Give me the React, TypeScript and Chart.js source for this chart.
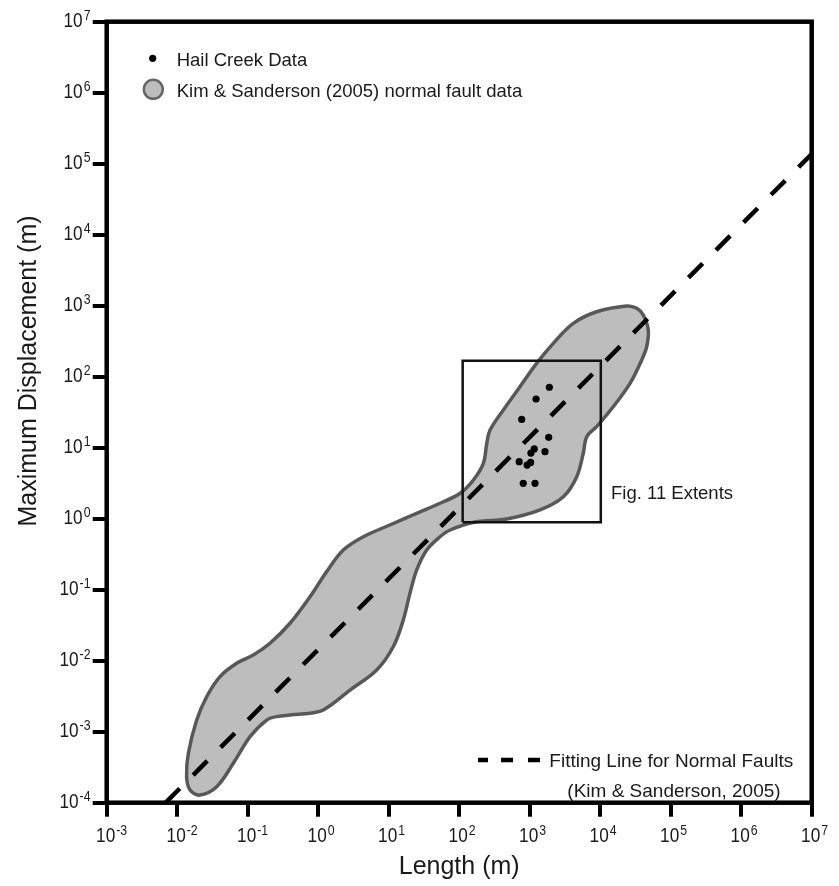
import React, { useEffect, useRef } from 'react';
import { Chart, registerables } from 'chart.js';

Chart.register(...registerables);

// ---- data ----
const xTickExponents = [-3, -2, -1, 0, 1, 2, 3, 4, 5, 6, 7];
const yTickExponents = [-4, -3, -2, -1, 0, 1, 2, 3, 4, 5, 6, 7];

// Kim & Sanderson (2005) normal fault data envelope (closed outline)
const envelopeLength = [0.766, 1.18, 2.83, 6.76, 11.6, 16.1, 20.0, 24.9, 34.6, 53.5, 74.1, 168, 472, 1400, 3000, 4650, 5750, 6440, 8910, 15300, 26500, 38800, 45700, 48100, 40800, 33000, 23800, 8910, 4150, 2160, 1260, 728, 423, 274, 246, 220, 159, 103, 53.5, 24.9, 10.4, 4.37, 2.27, 1.32, 0.766, 0.398, 0.207, 0.120, 0.0698, 0.0405, 0.0262, 0.0189, 0.0144, 0.0136, 0.0152, 0.0210, 0.0363, 0.0625, 0.108, 0.186, 0.258, 0.766];
const envelopeDisp = [0.00182, 0.00202, 0.00386, 0.0074, 0.0157, 0.0374, 0.0889, 0.189, 0.362, 0.557, 0.693, 0.899, 0.991, 1.33, 2.04, 3.91, 8.34, 14.3, 19.8, 37.8, 80.7, 172, 265, 455, 740, 918, 991, 822, 565, 295, 155, 72.3, 34.0, 17.7, 11.5, 6.03, 3.51, 2.28, 1.65, 1.19, 0.815, 0.557, 0.362, 0.180, 0.0796, 0.0337, 0.0176, 0.0120, 0.00918, 0.00596, 0.00311, 0.00146, 0.000497, 0.000232, 0.000151, 0.000128, 0.000168, 0.000359, 0.000851, 0.00146, 0.00163, 0.00182];

// Hail Creek data
const hailLength = [1900, 1230, 770, 1860, 1160, 1040, 1650, 710, 1030, 920, 810, 1190];
const hailDisp = [71, 48.5, 25, 14, 9.6, 8.4, 8.8, 6.35, 6.2, 5.7, 3.15, 3.15];

// Fitting line for normal faults
const fitLength = [0.00685, 1e7];
const fitDisp = [1e-4, 1.37e5];

// Fig. 11 extents box
const extentLength = [112, 10200];
const extentDisp = [0.89, 168];

const xTitle = 'Length (m)';
const yTitle = 'Maximum Displacement (m)';
const legendHail = 'Hail Creek Data';
const legendKim = 'Kim & Sanderson (2005) normal fault data';
const legendFit1 = 'Fitting Line for Normal Faults';
const legendFit2 = '(Kim & Sanderson, 2005)';
const extentLabel = 'Fig. 11 Extents';

const FONT = '"Liberation Sans", Arial, Helvetica, sans-serif';
const TEXT = '#1a1a1a';

function drawText(ctx: CanvasRenderingContext2D, s: string, x: number, y: number, size: number, sx = 1) {
  ctx.save();
  ctx.font = `${size}px ${FONT}`;
  ctx.textBaseline = 'alphabetic';
  ctx.textAlign = 'left';
  ctx.translate(x, y);
  ctx.scale(sx, 1);
  ctx.fillText(s, 0, 0);
  ctx.restore();
}
function textWidth(ctx: CanvasRenderingContext2D, s: string, size: number, sx = 1) {
  ctx.save();
  ctx.font = `${size}px ${FONT}`;
  const w = ctx.measureText(s).width * sx;
  ctx.restore();
  return w;
}

const BASE = 21, SUP = 15, SX = 0.82;

const overlayPlugin = {
  id: 'overlay',
  afterDraw(chart: any) {
    const ctx: CanvasRenderingContext2D = chart.ctx;
    const a = chart.chartArea;
    const xs = chart.scales.x, ys = chart.scales.y;
    ctx.save();
    // frame
    ctx.strokeStyle = '#000';
    ctx.lineWidth = 4.5;
    ctx.strokeRect(a.left, a.top, a.right - a.left, a.bottom - a.top);

    ctx.fillStyle = TEXT;
    // x tick labels
    xTickExponents.forEach((e) => {
      const px = xs.getPixelForValue(Math.pow(10, e));
      const wb = textWidth(ctx, '10', BASE, SX);
      const x0 = px - 1 - wb / 2;
      drawText(ctx, '10', x0, 842, BASE, SX);
      drawText(ctx, String(e), x0 + wb + 1, 835, SUP, SX);
    });
    // y tick labels
    yTickExponents.forEach((e) => {
      const py = ys.getPixelForValue(Math.pow(10, e));
      const ws = textWidth(ctx, String(e), SUP, SX);
      const wb = textWidth(ctx, '10', BASE, SX);
      const right = 90.5;
      drawText(ctx, String(e), right - ws, py - 2, SUP, SX);
      drawText(ctx, '10', right - ws - 1 - wb, py + 5, BASE, SX);
    });

    // axis titles
    ctx.save();
    ctx.font = `25px ${FONT}`;
    ctx.textAlign = 'center';
    ctx.textBaseline = 'alphabetic';
    ctx.fillText(xTitle, (a.left + a.right) / 2, 874);
    ctx.translate(36, 371);
    ctx.rotate(-Math.PI / 2);
    ctx.fillText(yTitle, 0, 0);
    ctx.restore();

    // legend top-left
    ctx.fillStyle = '#000';
    ctx.beginPath();
    ctx.arc(152.7, 58.3, 3.6, 0, Math.PI * 2);
    ctx.fill();
    ctx.fillStyle = TEXT;
    drawText(ctx, legendHail, 176.7, 66, 18.5);

    ctx.beginPath();
    ctx.arc(153.3, 89.3, 9.5, 0, Math.PI * 2);
    ctx.fillStyle = '#bdbdbd';
    ctx.fill();
    ctx.strokeStyle = '#666';
    ctx.lineWidth = 2.5;
    ctx.stroke();
    ctx.fillStyle = TEXT;
    drawText(ctx, legendKim, 176.7, 97, 18.5);

    // legend bottom-right
    ctx.strokeStyle = '#000';
    ctx.lineWidth = 4.5;
    ctx.lineCap = 'butt';
    [[478, 488], [501, 513], [528, 540]].forEach(([x1, x2]) => {
      ctx.beginPath();
      ctx.moveTo(x1, 760);
      ctx.lineTo(x2, 760);
      ctx.stroke();
    });
    drawText(ctx, legendFit1, 549.3, 767, 19);
    drawText(ctx, legendFit2, 567.3, 797, 19);

    // extents label
    drawText(ctx, extentLabel, 611, 499, 18.5);
    ctx.restore();
  },
};

export default function App() {
  const ref = useRef<HTMLCanvasElement | null>(null);
  useEffect(() => {
    if (!ref.current) return;
    const hail = hailLength.map((x, i) => ({ x, y: hailDisp[i] }));
    const env = envelopeLength.map((x, i) => ({ x, y: envelopeDisp[i] }));
    const fit = fitLength.map((x, i) => ({ x, y: fitDisp[i] }));
    const box = [
      { x: extentLength[0], y: extentDisp[0] },
      { x: extentLength[0], y: extentDisp[1] },
      { x: extentLength[1], y: extentDisp[1] },
      { x: extentLength[1], y: extentDisp[0] },
      { x: extentLength[0], y: extentDisp[0] },
    ];
    const chart = new Chart(ref.current, {
      type: 'scatter',
      data: {
        datasets: [
          {
            label: 'Hail Creek Data',
            data: hail,
            order: 0,
            pointRadius: 3.6,
            pointBackgroundColor: '#000',
            pointBorderWidth: 0,
            showLine: false,
          },
          {
            label: 'Fitting Line',
            data: fit,
            order: 1,
            showLine: true,
            borderColor: '#000',
            borderWidth: 4.5,
            borderDash: [20, 19],
            borderCapStyle: 'butt',
            pointRadius: 0,
            tension: 0,
          },
          {
            label: 'Fig. 11 Extents',
            data: box,
            order: 2,
            showLine: true,
            borderColor: '#111',
            borderWidth: 2.5,
            pointRadius: 0,
            tension: 0,
          },
          {
            label: 'Kim & Sanderson (2005)',
            data: env,
            order: 3,
            showLine: true,
            fill: 'shape',
            backgroundColor: '#bdbdbd',
            borderColor: '#585858',
            borderWidth: 3.5,
            pointRadius: 0,
            tension: 0.35,
          },
        ],
      } as any,
      options: {
        animation: false,
        responsive: false,
        devicePixelRatio: 1,
        events: [],
        layout: { padding: { left: 0, right: 27.3, top: 21.7, bottom: 0 } },
        plugins: { legend: { display: false }, tooltip: { enabled: false } },
        scales: {
          x: {
            type: 'logarithmic',
            min: 1e-3,
            max: 1e7,
            ticks: { display: false },
            border: { display: false },
            grid: { display: true, drawOnChartArea: false, drawTicks: true, tickLength: 14, lineWidth: 4, color: '#000' },
            afterBuildTicks: (axis: any) => {
              axis.ticks = xTickExponents.map((e) => ({ value: Math.pow(10, e) }));
            },
            afterFit: (axis: any) => {
              axis.height = 886 - 802.7;
            },
          },
          y: {
            type: 'logarithmic',
            min: 1e-4,
            max: 1e7,
            ticks: { display: false },
            border: { display: false },
            grid: { display: true, drawOnChartArea: false, drawTicks: true, tickLength: 14, lineWidth: 4, color: '#000' },
            afterBuildTicks: (axis: any) => {
              axis.ticks = yTickExponents.map((e) => ({ value: Math.pow(10, e) }));
            },
            afterFit: (axis: any) => {
              axis.width = 106.7;
            },
          },
        },
      } as any,
      plugins: [overlayPlugin],
    });
    return () => chart.destroy();
  }, []);
  return (
    <div style={{ position: 'absolute', left: 0, top: 0, width: 839, height: 886, background: '#fff' }}>
      <canvas ref={ref} width={839} height={886} style={{ display: 'block' }} />
    </div>
  );
}
